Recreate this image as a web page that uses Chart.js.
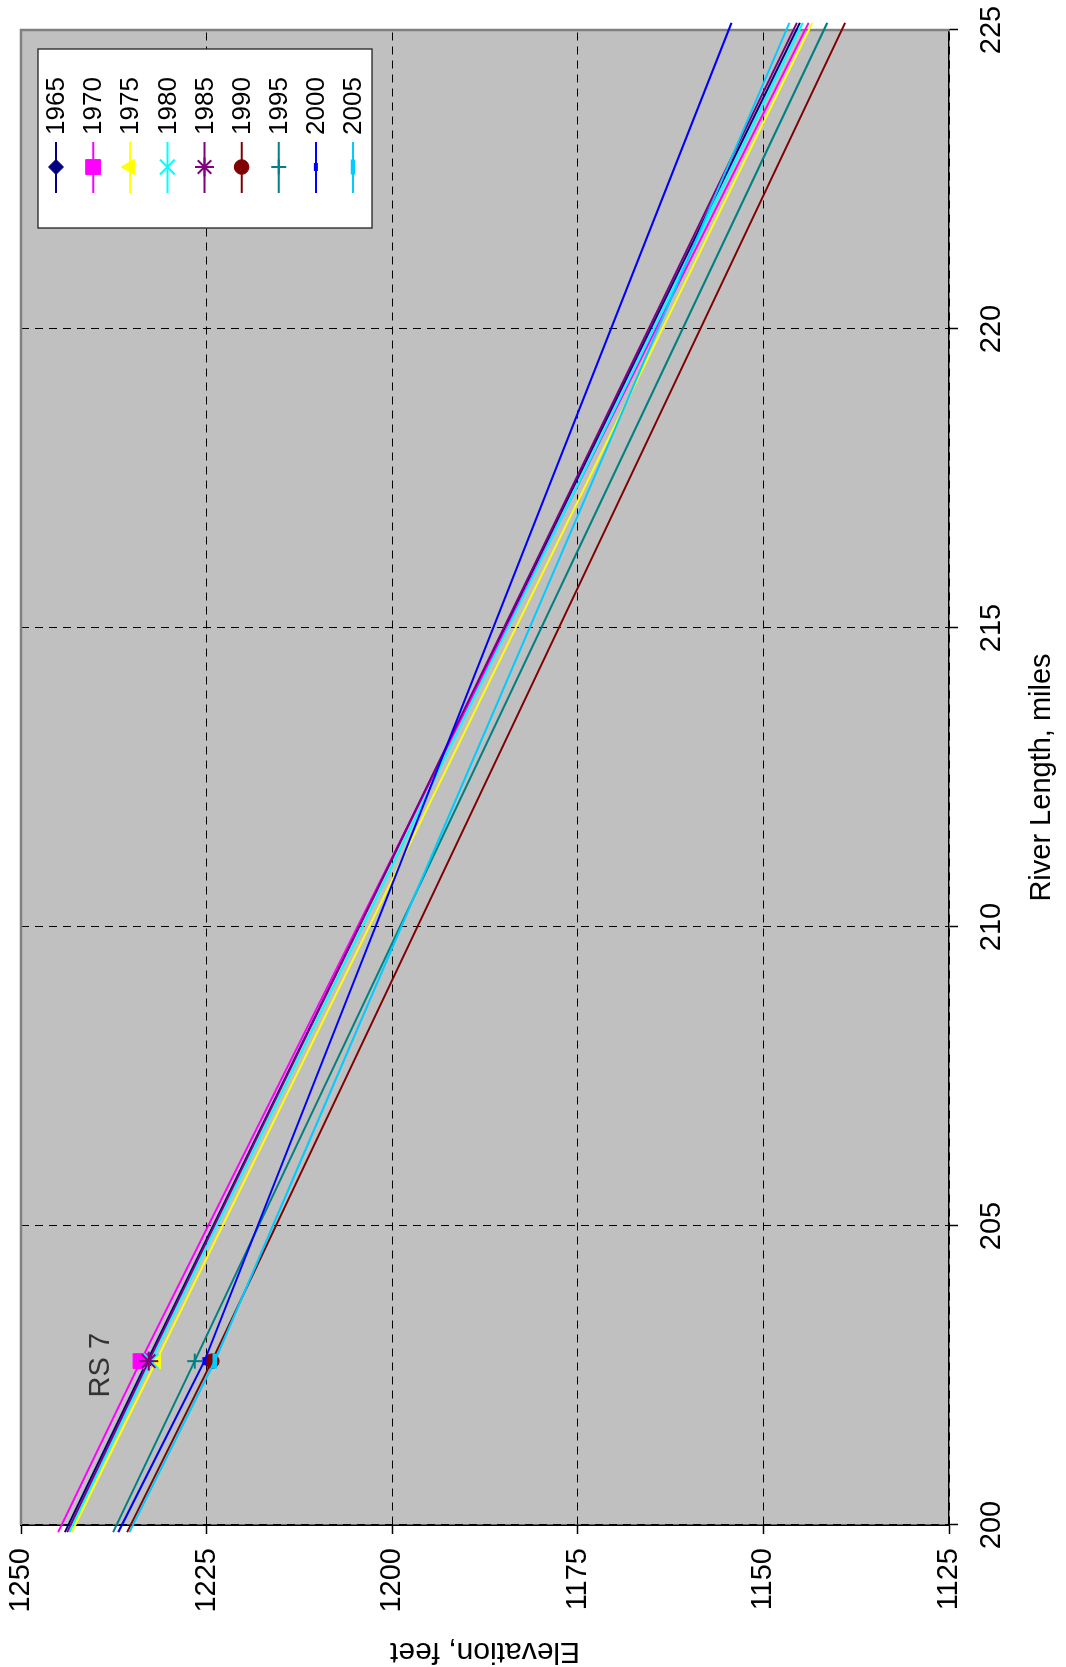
<!DOCTYPE html>
<html>
<head>
<meta charset="utf-8">
<title>Water surface profiles, RS 7 reach</title>
<script src="https://cdn.jsdelivr.net/npm/chart.js@4/dist/chart.umd.min.js"></script>
<style>
  html, body { margin: 0; padding: 0; background: #ffffff; overflow: hidden; }
  /* The profile is laid out landscape and turned a quarter turn counter-clockwise onto the portrait page */
  #frame {
    position: absolute; left: 0; top: 0;
    width: 1667px; height: 1066px;
    transform-origin: 0 0;
    transform: translate(0, 1667px) rotate(-90deg);
  }
  canvas { display: block; }
</style>
</head>
<body>
<div id="frame"><canvas id="profile" width="1667" height="1066"></canvas></div>
<script>
// ---- data -------------------------------------------------------------
const seriesYears = ['1965', '1970', '1975', '1980', '1985', '1990', '1995', '2000', '2005'];

// River length (miles): downstream end of the reach, RS 7, upstream end of the reach
const riverMiles = [199.88, 202.74, 225.12];
const stationIndex = 1;
const stationLabel = 'RS 7';

// Elevation (feet) at each river-length station above
const elev1965 = [1244.1, 1233.0, 1145.1];
const elev1970 = [1245.0, 1233.9, 1143.9];
const elev1975 = [1243.2, 1231.8, 1143.4];
const elev1980 = [1243.5, 1232.5, 1144.7];
const elev1985 = [1243.8, 1232.8, 1145.5];
const elev1990 = [1235.7, 1224.3, 1139.0];
const elev1995 = [1237.6, 1226.6, 1141.4];
const elev2000 = [1236.9, 1225.3, 1154.3];
const elev2005 = [1235.4, 1223.9, 1146.5];

const xTicks = [200, 205, 210, 215, 220, 225];
const yTicks = [1125, 1150, 1175, 1200, 1225, 1250];

// ---- styling ------------------------------------------------------------
const elevationSeries = [elev1965, elev1970, elev1975, elev1980, elev1985, elev1990, elev1995, elev2000, elev2005];
const seriesColors = ['#000080', '#FF00FF', '#FFFF00', '#00FFFF', '#800080', '#800000', '#008080', '#0000FF', '#00CCFF'];
const markerStyles = ['rectRot', 'rect', 'triangle', 'crossRot', 'star', 'circle', 'cross', 'line', 'line'];
const markerRadius = [7.5, 10.5, 9, 10.5, 9.5, 7.3, 7.5, 4, 7.5];
const markerBorder = [1, 1, 1, 2, 2, 1, 2, 4, 4.5];

const FONT = "'Liberation Sans', Arial, sans-serif";

const datasets = seriesYears.map((year, i) => ({
  label: year,
  data: riverMiles.map((mile, k) => ({ x: mile, y: elevationSeries[i][k] })),
  borderColor: seriesColors[i],
  backgroundColor: seriesColors[i],
  borderWidth: 2,
  tension: 0,
  clip: false,
  order: seriesYears.length - i,
  pointStyle: markerStyles[i],
  pointRadius: ctx => (ctx.dataIndex === stationIndex ? markerRadius[i] : 0),
  pointHoverRadius: ctx => (ctx.dataIndex === stationIndex ? markerRadius[i] : 0),
  pointBorderWidth: markerBorder[i],
  pointBorderColor: seriesColors[i],
  pointBackgroundColor: seriesColors[i]
}));

// Silver plot area, grey frame on the two open sides
const plotFrame = {
  id: 'plotFrame',
  beforeDraw(chart) {
    const { ctx, chartArea: a } = chart;
    ctx.save();
    ctx.fillStyle = '#ffffff';
    ctx.fillRect(0, 0, chart.width, chart.height);
    ctx.fillStyle = '#c0c0c0';
    ctx.fillRect(a.left, a.top, a.right - a.left, a.bottom - a.top);
    ctx.restore();
  },
  beforeDatasetsDraw(chart) {
    const { ctx, chartArea: a } = chart;
    ctx.save();
    ctx.strokeStyle = '#808080';
    ctx.lineWidth = 2.5;
    ctx.beginPath();
    ctx.moveTo(a.left, a.top);
    ctx.lineTo(a.right, a.top);
    ctx.lineTo(a.right, a.bottom);
    ctx.stroke();
    ctx.restore();
  }
};

// Cross-section label above the markers
const stationTag = {
  id: 'stationTag',
  afterDatasetsDraw(chart) {
    const { ctx, scales } = chart;
    const topElev = Math.max(...elevationSeries.map(e => e[stationIndex]));
    const x = scales.x.getPixelForValue(riverMiles[stationIndex]) - 4;
    const y = scales.y.getPixelForValue(topElev) - 40;
    ctx.save();
    ctx.font = '29px ' + FONT;
    ctx.fillStyle = '#333333';
    ctx.textAlign = 'center';
    ctx.textBaseline = 'middle';
    ctx.fillText(stationLabel, x, y);
    ctx.restore();
  }
};

// Boxed legend in the upper-right corner of the plot: line, marker, year
const boxedLegend = {
  id: 'boxedLegend',
  afterDraw(chart) {
    const { ctx, chartArea: a } = chart;
    const w = 179, h = 334;
    const left = a.right - 19 - w, top = a.top + 17;
    ctx.save();
    ctx.fillStyle = '#ffffff';
    ctx.fillRect(left, top, w, h);
    ctx.strokeStyle = '#222222';
    ctx.lineWidth = 1.3;
    ctx.strokeRect(left, top, w, h);
    ctx.font = '26px ' + FONT;
    ctx.textAlign = 'left';
    ctx.textBaseline = 'middle';
    chart.data.datasets.forEach((ds, i) => {
      const y = top + 18 + i * 37.125;
      ctx.strokeStyle = ds.borderColor;
      ctx.lineWidth = 2;
      ctx.beginPath();
      ctx.moveTo(left + 35, y);
      ctx.lineTo(left + 86, y);
      ctx.stroke();
      ctx.fillStyle = ds.pointBackgroundColor;
      ctx.strokeStyle = ds.pointBorderColor;
      ctx.lineWidth = ds.pointBorderWidth;
      Chart.helpers.drawPoint(ctx, {
        pointStyle: ds.pointStyle,
        rotation: 0,
        radius: markerRadius[i],
        borderWidth: ds.pointBorderWidth
      }, left + 61, y);
      ctx.fillStyle = '#000000';
      ctx.fillText(ds.label, left + 93, y + 1);
    });
    ctx.restore();
  }
};

new Chart(document.getElementById('profile'), {
  type: 'line',
  data: { datasets },
  options: {
    responsive: false,
    devicePixelRatio: 1,
    animation: false,
    events: [],
    layout: { padding: { left: 0, top: 21, right: 30, bottom: 0 } },
    plugins: {
      legend: { display: false },
      tooltip: { enabled: false }
    },
    scales: {
      x: {
        type: 'linear',
        position: 'bottom',
        min: 200,
        max: 225,
        afterBuildTicks: s => { s.ticks = xTicks.map(v => ({ value: v })); },
        afterFit: s => { s.height = 117; s.paddingLeft = 0; s.paddingRight = 0; },
        ticks: {
          autoSkip: false,
          maxRotation: 0,
          padding: 17,
          color: '#000000',
          font: { family: FONT, size: 29 },
          callback: v => String(v)
        },
        grid: {
          color: '#000000',
          lineWidth: 1,
          tickLength: 9,
          tickColor: '#000000',
          tickWidth: 1.5
        },
        border: { display: true, color: '#000000', width: 1.5, dash: [8, 6] },
        title: {
          display: true,
          text: 'River Length, miles',
          color: '#000000',
          font: { family: FONT, size: 29 },
          padding: { top: 0, bottom: 7 }
        }
      },
      y: {
        type: 'linear',
        position: 'left',
        min: 1125,
        max: 1250,
        afterBuildTicks: s => { s.ticks = yTicks.map(v => ({ value: v })); },
        afterFit: s => { s.width = 142; s.paddingTop = 0; s.paddingBottom = 0; },
        ticks: {
          autoSkip: false,
          padding: 14,
          color: '#000000',
          font: { family: FONT, size: 29 },
          callback: v => String(v)
        },
        grid: {
          color: '#000000',
          lineWidth: 1,
          tickLength: 9,
          tickColor: '#000000',
          tickWidth: 1.5
        },
        border: { display: true, color: '#000000', width: 1.5, dash: [8, 6] },
        title: {
          display: true,
          text: 'Elevation, feet',
          color: '#000000',
          font: { family: FONT, size: 30 },
          padding: { top: -2, bottom: 0 }
        }
      }
    }
  },
  plugins: [plotFrame, stationTag, boxedLegend]
});
</script>
</body>
</html>
